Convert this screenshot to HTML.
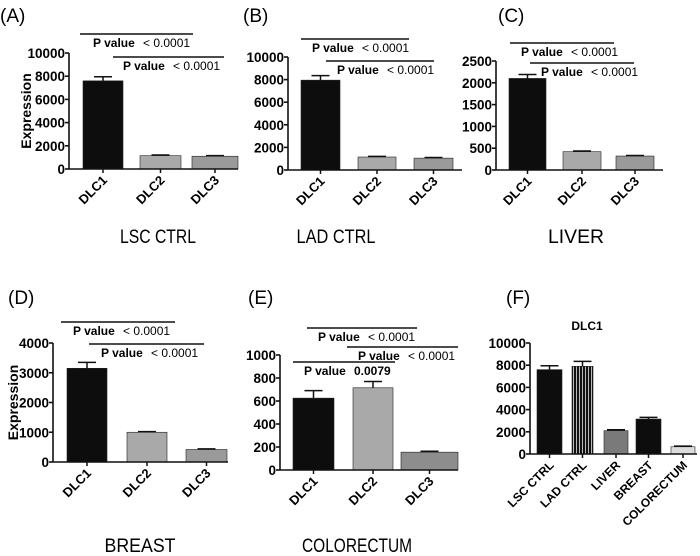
<!DOCTYPE html>
<html><head><meta charset="utf-8"><style>
html,body{margin:0;padding:0;background:#fff;width:700px;height:556px;overflow:hidden}
svg text{font-family:"Liberation Sans",Arial,sans-serif}
</style></head><body>
<svg id="fig" width="700" height="556" xmlns="http://www.w3.org/2000/svg">
<defs>
<pattern id="stripes" width="3" height="4" patternUnits="userSpaceOnUse"><rect width="3" height="4" fill="#111"/><rect width="1" height="4" fill="#bbb"/></pattern>
</defs>
</svg>
<script>
const catsDLC = ["DLC1","DLC2","DLC3"];
const valsA = [7600,1150,1100];
const errA = [350,60,50];
const valsB = [7950,1150,1050];
const errB = [400,60,60];
const valsC = [2100,420,320];
const errC = [90,15,12];
const valsD = [3150,1000,420];
const errD = [200,20,20];
const valsE = [625,715,155];
const errE = [65,55,8];
const catsF = ["LSC CTRL","LAD CTRL","LIVER","BREAST","COLORECTUM"];
const valsF = [7600,7900,2100,3150,650];
const errF = [350,450,80,150,60];
const ticks10k = [0,2000,4000,6000,8000,10000];
const ticks2500 = [0,500,1000,1500,2000,2500];
const ticks4000 = [0,1000,2000,3000,4000];
const ticks1000 = [0,200,400,600,800,1000];

const svg=document.getElementById('fig');
const NS="http://www.w3.org/2000/svg";
function mk(tag,attrs,parent){const e=document.createElementNS(NS,tag);for(const k in attrs)e.setAttribute(k,attrs[k]);(parent||svg).appendChild(e);return e;}

const fills3=["#0d0d0d","#a9a9a9","#9a9a9a"];
const fillsF=["#0d0d0d","url(#stripes)","#7a7a7a","#0d0d0d","#dcdcdc"];

function panel(p){
  const g=mk('g',{});
  
  
  const ymax=p.ticks[p.ticks.length-1];
  const y=v=>p.y0-(v/ymax)*(p.y0-p.yTop);
  const lab=mk('text',{x:p.lx,y:p.ly,'font-size':19},g);lab.textContent='('+p.id+')';
  
  
  p.vals.forEach((v,i)=>{
    const [a,b]=p.bars[i];const c=(a+b)/2;
    const r=mk('rect',{x:a,y:y(v),width:b-a,height:p.y0-y(v),fill:p.fills[i],stroke:'#222','stroke-width':0.6},g);
    
    
    const t=y(v+p.err[i]);
    mk('line',{x1:c,x2:c,y1:y(v),y2:t,stroke:'#111','stroke-width':1.5},g);
    mk('line',{x1:c-9,x2:c+9,y1:t,y2:t,stroke:'#111','stroke-width':1.5},g);
    mk('line',{x1:c,x2:c,y1:p.y0,y2:p.y0+4,stroke:'#111','stroke-width':1.5},g);
    const tl=mk('text',{x:c+5,y:p.y0+12,'font-size':p.catSize,'font-weight':'bold','text-anchor':'end',transform:`rotate(-45 ${c+5} ${p.y0+12})`},g);
    tl.textContent=p.cats[i];
    
    
  });
  mk('line',{x1:p.ax,x2:p.ax,y1:p.yTop,y2:p.y0,stroke:'#111','stroke-width':1.6},g);
  mk('line',{x1:p.ax,x2:p.axR,y1:p.y0,y2:p.y0,stroke:'#111','stroke-width':1.6},g);
  p.ticks.forEach(tv=>{
    mk('line',{x1:p.ax-4,x2:p.ax,y1:y(tv),y2:y(tv),stroke:'#111','stroke-width':1.6},g);
    const tt=mk('text',{x:p.ax-4,y:y(tv)+5,'font-size':13.5,'font-weight':'bold','text-anchor':'end'},g);
    tt.textContent=tv;
    
    
  });
  if(p.ylabX){const yl=mk('text',{x:0,y:0,'font-size':14,'font-weight':'bold','text-anchor':'middle',transform:`translate(${p.ylabX} ${(p.y0+p.yTop)/2}) rotate(-90)`},g);yl.textContent='Expression';
    }
  (p.sig||[]).forEach(s=>{
    mk('line',{x1:s[0],x2:s[1],y1:s[2],y2:s[2],stroke:'#111','stroke-width':1.5},g);
    const a=mk('text',{x:s[3],y:s[2]+13,'font-size':12,'font-weight':'bold'},g);a.textContent='P value';
    
    const b=mk('text',{x:s[3]+50,y:s[2]+13,'font-size':12,'font-weight':s[4]?'bold':'normal'},g);b.textContent=s[4]?'0.0079':'< 0.0001';
    
  });
  if(p.title){const at={x:p.tx,y:p.ty,'font-size':p.tsize||19,'text-anchor':'middle','font-weight':p.tbold?'bold':'normal'};
    if(p.tlen){at.textLength=p.tlen;at.lengthAdjust='spacingAndGlyphs';}
    const ti=mk('text',at,g);ti.textContent=p.title;
    }
}

panel({id:'A',lx:0,ly:22,cats:catsDLC,vals:valsA,err:errA,fills:fills3,ticks:ticks10k,ax:69,axR:238,y0:169,yTop:53,
  bars:[[83,123],[140,181],[192,238]],catSize:13,ylabX:31,sig:[[80,193,34,93],[113,224,57,123]],title:'LSC CTRL',tx:158,ty:243,tlen:76});
panel({id:'B',lx:243,ly:22,cats:catsDLC,vals:valsB,err:errB,fills:fills3,ticks:ticks10k,ax:288,axR:462,y0:170,yTop:57,
  bars:[[301,340],[358,396],[414,453]],catSize:13,sig:[[301,409,39,312],[326,434,61,337]],title:'LAD CTRL',tx:336,ty:243,tlen:79});
panel({id:'C',lx:498,ly:22,cats:catsDLC,vals:valsC,err:errC,fills:fills3,ticks:ticks2500,ax:496,axR:663,y0:170,yTop:61,
  bars:[[509,546],[563,601],[616,654]],catSize:13,sig:[[510,614,43,521],[530,634,63,541]],title:'LIVER',tx:576,ty:243,tlen:56});
panel({id:'D',lx:8,ly:304,cats:catsDLC,vals:valsD,err:errD,fills:fills3,ticks:ticks4000,ax:53,axR:228,y0:462,yTop:343,
  bars:[[67,107],[127,167],[186,227]],catSize:13,ylabX:18,sig:[[61,175,322,73],[89,204,344,101]],title:'BREAST',tx:140,ty:552,tlen:71});
panel({id:'E',lx:248,ly:304,cats:catsDLC,vals:valsE,err:errE,fills:["#0d0d0d","#a9a9a9","#8d8d8d"],ticks:ticks1000,ax:280,axR:458,y0:470,yTop:355,
  bars:[[293,334],[353,393],[401,458]],catSize:13,sig:[[307,417,328,318],[347,458,347,358],[293,395,362,304,true]],title:'COLORECTUM',tx:357,ty:552,tlen:110});
panel({id:'F',lx:506,ly:304,cats:catsF,vals:valsF,err:errF,fills:fillsF,ticks:ticks10k,ax:530,axR:697,y0:454,yTop:343,
  bars:[[537,562],[572,593],[604,628],[636,661],[671,695]],catSize:12,title:'DLC1',tx:587,ty:330,tsize:12,tbold:true});
</script>
</body></html>
